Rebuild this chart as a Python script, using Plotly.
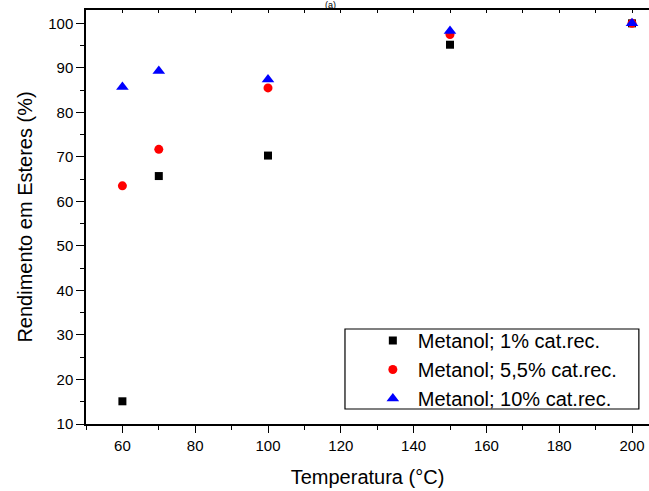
import plotly.graph_objects as go

temps = [60, 70, 100, 150, 200]
cat1 = [15.1, 65.7, 70.3, 95.2, 100.0]
cat55 = [63.5, 71.7, 85.5, 97.5, 100.0]
cat10 = [85.7, 89.3, 87.4, 98.3, 100.0]
names = ["Metanol; 1% cat.rec.", "Metanol; 5,5% cat.rec.", "Metanol; 10% cat.rec."]

fig = go.Figure()
fig.add_trace(go.Scatter(x=temps, y=cat1, mode="markers", name=names[0],
                         marker=dict(symbol="square", size=8, color="black")))
fig.add_trace(go.Scatter(x=temps, y=cat55, mode="markers", name=names[1],
                         marker=dict(symbol="circle", size=9, color="red")))
fig.add_trace(go.Scatter(x=temps, y=cat10, mode="markers", name=names[2],
                         marker=dict(symbol="triangle-up", size=11, color="blue")))
# invisible trace on overlay axes to enable top ticks
fig.add_trace(go.Scatter(x=[temps[0]], y=[cat1[0]], xaxis="x2", yaxis="y",
                         mode="markers", marker=dict(opacity=0), showlegend=False,
                         hoverinfo="skip"))

XR = [50, 204.67]
YR = [10, 103]
tickfont = dict(family="Arial", size=15, color="black")

fig.update_layout(
    width=649, height=491,
    margin=dict(l=86, r=0, t=10, b=67),
    paper_bgcolor="white", plot_bgcolor="white",
    font=dict(family="Arial", color="black"),
    xaxis=dict(range=XR, tickmode="linear", tick0=60, dtick=20,
               showgrid=False, zeroline=False, showline=True, linecolor="black", linewidth=1.5,
               ticks="outside", ticklen=7, tickwidth=1.3, tickcolor="black", tickfont=tickfont,
               minor=dict(ticks="outside", ticklen=4, dtick=10, tick0=50, tickcolor="black", tickwidth=1.2),
               title=dict(text="Temperatura (°C)", font=dict(family="Arial", size=20), standoff=17)),
    xaxis2=dict(range=XR, overlaying="x", side="top", tickmode="linear", tick0=50, dtick=10,
                showgrid=False, zeroline=False, showline=True, linecolor="black", linewidth=1.5,
                ticks="inside", ticklen=3, tickwidth=1.2, tickcolor="black", showticklabels=False),
    yaxis=dict(range=YR, tickmode="linear", tick0=10, dtick=10,
               showgrid=False, zeroline=False, showline=True, linecolor="black", linewidth=1.5,
               ticks="outside", ticklen=8, tickwidth=1.3, tickcolor="black", tickfont=tickfont,
               minor=dict(ticks="outside", ticklen=4, dtick=5, tick0=10, tickcolor="black", tickwidth=1.2),
               title=dict(text="Rendimento em Esteres (%)", font=dict(family="Arial", size=20), standoff=10)),
    legend=dict(x=0.5006, y=0.2487, xanchor="left", yanchor="top",
                borderwidth=0, bgcolor="rgba(0,0,0,0)",
                font=dict(family="Arial", size=20), itemwidth=40),
    showlegend=True,
)
fig.add_shape(type="rect", xref="paper", yref="paper", x0=0.460, x1=0.982, y0=0.0362, y1=0.2295,
              line=dict(color="black", width=1.2), fillcolor="rgba(0,0,0,0)")
fig.add_annotation(text="(a)", xref="paper", yref="paper", x=0.435, y=1.0,
                   yanchor="bottom", yshift=-1, showarrow=False,
                   font=dict(family="Arial", size=9), borderpad=0)

fig.write_html("out.html")
